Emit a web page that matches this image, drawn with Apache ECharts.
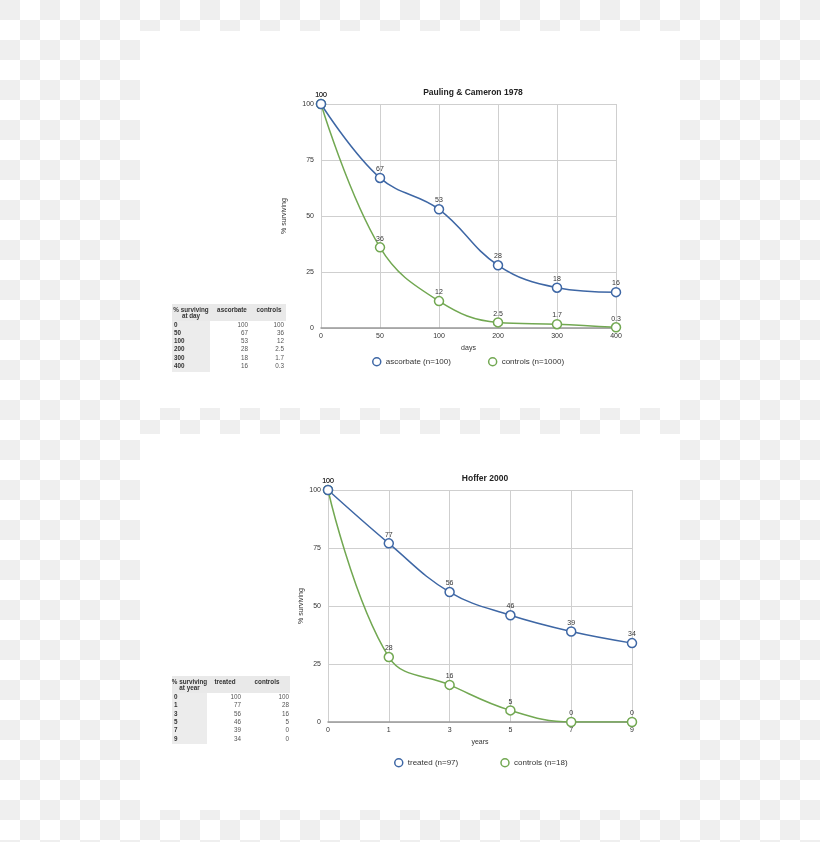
<!DOCTYPE html>
<html>
<head>
<meta charset="utf-8">
<script src="https://cdn.jsdelivr.net/npm/echarts@6/dist/echarts.min.js"></script>
<style>
html,body{margin:0;padding:0;}
body{width:820px;height:842px;background-color:#fff;
background-image:conic-gradient(#fff 0 25%, #efefef 0 50%, #fff 0 75%, #efefef 0);
background-size:40px 40px;}
#c{width:820px;height:842px;}
</style>
</head>
<body>
<div id="c"></div>
<script>
// ---- data ----
const days = ['0', '50', '100', '200', '300', '400'];
const ascorbate = [100, 67, 53, 28, 18, 16];
const controls1978 = [100, 36, 12, 2.5, 1.7, 0.3];
const years = ['0', '1', '3', '5', '7', '9'];
const treated = [100, 77, 56, 46, 39, 34];
const controls2000 = [100, 28, 16, 5, 0, 0];
const yTicks = [0, 25, 50, 75, 100];
const title1 = 'Pauling & Cameron 1978';
const title2 = 'Hoffer 2000';
const legend1 = ['ascorbate (n=100)', 'controls (n=1000)'];
const legend2 = ['treated (n=97)', 'controls (n=18)'];
const table1Head = ['% surviving\nat day', 'ascorbate', 'controls'];
const table2Head = ['% surviving\nat year', 'treated', 'controls'];

const BLUE = '#3e67a5';
const GREEN = '#72a852';
const FONT = 'Liberation Sans, Arial, sans-serif';

const chart = echarts.init(document.getElementById('c'));

function makeTable(x0, x1, colEnd, c1Right, c2Right, c1Center, c2Center, headTop, headBottom, firstRowY, rowStep, bottom, head, rows, a, b) {
  const els = [];
  els.push({type:'rect', shape:{x:x0, y:headTop, width:x1-x0, height:headBottom-headTop}, style:{fill:'#e9e9e9'}, silent:true});
  els.push({type:'rect', shape:{x:x0, y:headBottom, width:colEnd-x0, height:bottom-headBottom}, style:{fill:'#ececec'}, silent:true});
  const hy = (headTop + headBottom) / 2 + 1;
  els.push({type:'text', x:(x0+colEnd)/2, y:hy, style:{text:head[0], fill:'#333', font:'bold 6.3px ' + FONT, align:'center', verticalAlign:'middle', lineHeight:6.5}, silent:true});
  els.push({type:'text', x:c1Center, y:hy - 3, style:{text:head[1], fill:'#333', font:'bold 6.3px ' + FONT, align:'center', verticalAlign:'middle'}, silent:true});
  els.push({type:'text', x:c2Center, y:hy - 3, style:{text:head[2], fill:'#333', font:'bold 6.3px ' + FONT, align:'center', verticalAlign:'middle'}, silent:true});
  rows.forEach((r, i) => {
    const y = firstRowY + i * rowStep;
    els.push({type:'text', x:x0 + 2, y:y, style:{text:r, fill:'#333', font:'bold 6.3px ' + FONT, align:'left', verticalAlign:'middle'}, silent:true});
    els.push({type:'text', x:c1Right, y:y, style:{text:String(a[i]), fill:'#555', font:'6.3px ' + FONT, align:'right', verticalAlign:'middle'}, silent:true});
    els.push({type:'text', x:c2Right, y:y, style:{text:String(b[i]), fill:'#555', font:'6.3px ' + FONT, align:'right', verticalAlign:'middle'}, silent:true});
  });
  return els;
}

const graphics = [
  {type:'rect', shape:{x:140, y:31, width:540, height:377}, style:{fill:'#fff'}, silent:true, z:-10},
  {type:'rect', shape:{x:140, y:434, width:540, height:376}, style:{fill:'#fff'}, silent:true, z:-10}
].concat(
  makeTable(172, 286, 210, 248, 284, 232, 269, 304, 321, 325, 8.2, 372, table1Head, days, ascorbate, controls1978),
  makeTable(172, 290, 207, 241, 289, 225, 267, 676, 693, 697, 8.4, 744, table2Head, years, treated, controls2000)
);

function xAxis(cats, gridIndex, name, gap) {
  return {
    type:'category', gridIndex, data:cats, boundaryGap:false,
    name, nameLocation:'middle', nameGap:gap,
    nameTextStyle:{fontSize:7, color:'#333', fontFamily:FONT},
    axisLine:{show:true, lineStyle:{color:'#999', width:1.5}},
    axisTick:{show:false},
    axisLabel:{fontSize:7, color:'#333', fontFamily:FONT, margin:5},
    splitLine:{show:true, lineStyle:{color:'#cfcfcf', width:1}}
  };
}
function yAxis(gridIndex, gap) {
  return {
    type:'value', gridIndex, min:0, max:100, interval:25,
    name:'% surviving', nameLocation:'middle', nameGap:gap,
    nameTextStyle:{fontSize:7, color:'#333', fontFamily:FONT},
    axisLine:{show:false}, axisTick:{show:false},
    axisLabel:{fontSize:7, color:'#333', fontFamily:FONT, margin:7,
      customValues: yTicks},
    splitLine:{show:true, lineStyle:{color:'#cfcfcf', width:1}}
  };
}
function series(name, data, color, idx) {
  return {
    type:'line', name, data, xAxisIndex:idx, yAxisIndex:idx,
    smooth:0.4, symbol:'circle', symbolSize:9, showAllSymbol:true,
    lineStyle:{color, width:1.5},
    itemStyle:{color:'#fff', borderColor:color, borderWidth:1.5},
    label:{show:true, position:'top', distance:0, fontSize:7, color:'#333', fontFamily:FONT},
    emphasis:{disabled:true}
  };
}

chart.setOption({
  animation:false,
  backgroundColor:'transparent',
  textStyle:{fontFamily:FONT},
  title:[
    {text:title1, left:468, top:83, textAlign:'center', textStyle:{fontSize:8.5, fontWeight:'bold', color:'#222', fontFamily:FONT}},
    {text:title2, left:480, top:469, textAlign:'center', textStyle:{fontSize:8.5, fontWeight:'bold', color:'#222', fontFamily:FONT}}
  ],
  grid:[
    {left:321, right:204, top:104, bottom:514, containLabel:false},
    {left:328, right:188, top:490, bottom:120, containLabel:false}
  ],
  xAxis:[xAxis(days, 0, 'days', 17), xAxis(years, 1, 'years', 17)],
  yAxis:[yAxis(0, 33), yAxis(1, 23)],
  legend:[
    {data:[{name:legend1[0], itemStyle:{color:'#fff', borderColor:BLUE, borderWidth:1.5}}, {name:legend1[1], itemStyle:{color:'#fff', borderColor:GREEN, borderWidth:1.5}}],
     left:367, top:352, icon:'circle', itemWidth:8, itemHeight:8, itemGap:37,
     textStyle:{fontSize:8, color:'#333', fontFamily:FONT}},
    {data:[{name:legend2[0], itemStyle:{color:'#fff', borderColor:BLUE, borderWidth:1.5}}, {name:legend2[1], itemStyle:{color:'#fff', borderColor:GREEN, borderWidth:1.5}}],
     left:389, top:753, icon:'circle', itemWidth:8, itemHeight:8, itemGap:42,
     textStyle:{fontSize:8, color:'#333', fontFamily:FONT}}
  ],
  series:[
    series(legend1[1], controls1978, GREEN, 0),
    series(legend1[0], ascorbate, BLUE, 0),
    series(legend2[1], controls2000, GREEN, 1),
    series(legend2[0], treated, BLUE, 1)
  ],
  graphic:graphics
});
</script>
</body>
</html>
